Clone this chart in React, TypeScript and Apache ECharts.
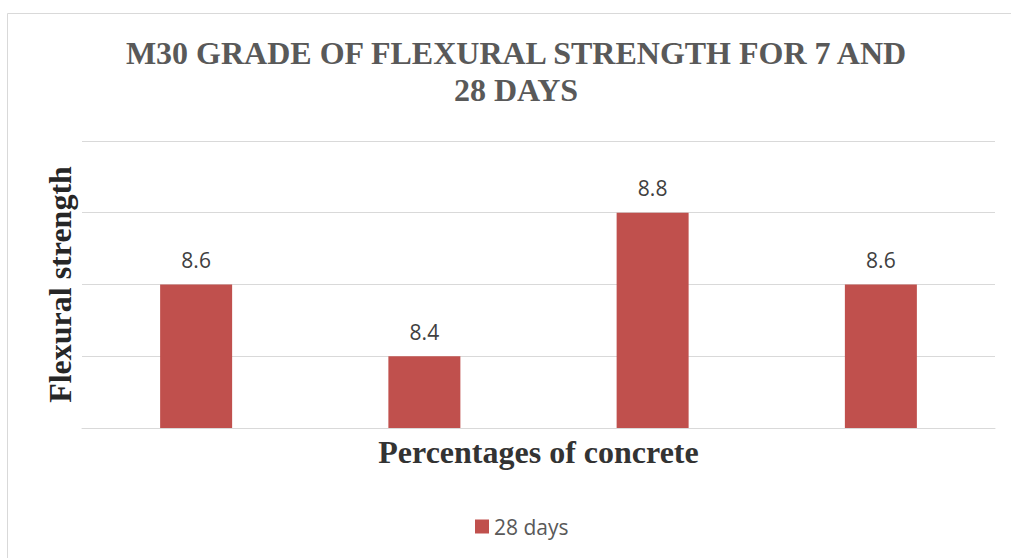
import React, { useEffect, useRef } from "react";
import * as echarts from "echarts";

const categories = ["Mix 1", "Mix 2", "Mix 3", "Mix 4"];
const days28 = [8.6, 8.4, 8.8, 8.6];
const seriesName = "28 days";
const titleText = "M30 GRADE OF FLEXURAL STRENGTH FOR 7 AND\n28 DAYS";
const xName = "Percentages of concrete";
const yName = "Flexural strength";

export default function App() {
  const ref = useRef<HTMLDivElement>(null);
  useEffect(() => {
    if (!ref.current) return;
    const chart = echarts.init(ref.current, null, { renderer: "svg" });
    chart.setOption({
      animation: false,
      backgroundColor: "#ffffff",
      title: {
        text: titleText,
        left: 516,
        top: 34,
        textAlign: "center",
        padding: 0,
        textStyle: {
          fontFamily: "Liberation Serif",
          fontWeight: "bold",
          fontSize: 32,
          lineHeight: 37,
          color: "#595959",
        },
      },
      graphic: [
        {
          type: "rect",
          shape: { x: 7.5, y: 13.5, width: 1100, height: 700 },
          style: { fill: "none", stroke: "#d9d9d9", lineWidth: 1 },
          silent: true,
        },
      ],
      legend: {
        data: [seriesName],
        left: 470,
        top: 511,
        itemWidth: 14,
        itemHeight: 14,
        itemGap: 10,
        icon: "rect",
        textStyle: { fontFamily: "Open Sans", fontSize: 21, color: "#595959" },
      },
      grid: { left: 82, right: 16, top: 141, bottom: 130 },
      xAxis: {
        type: "category",
        data: categories,
        name: xName,
        nameLocation: "middle",
        nameGap: 8,
        nameTextStyle: {
          fontFamily: "Liberation Serif",
          fontWeight: "bold",
          fontSize: 32,
          color: "#333333",
        },
        axisLine: { lineStyle: { color: "#d9d9d9", width: 1 } },
        axisTick: { show: false },
        axisLabel: { show: false },
      },
      yAxis: {
        type: "value",
        min: 8.2,
        max: 9.0,
        interval: 0.2,
        name: yName,
        nameLocation: "middle",
        nameGap: 6,
        nameTextStyle: {
          fontFamily: "Liberation Serif",
          fontWeight: "bold",
          fontSize: 32,
          color: "#262626",
        },
        axisLine: { show: false },
        axisTick: { show: false },
        axisLabel: { show: false },
        splitLine: { lineStyle: { color: "#d9d9d9", width: 1 } },
      },
      series: [
        {
          name: seriesName,
          type: "bar",
          data: days28,
          barWidth: 72,
          itemStyle: { color: "#c0504d" },
          label: {
            show: true,
            position: "top",
            distance: 14,
            fontFamily: "Open Sans",
            fontSize: 21,
            color: "#404040",
          },
        },
      ],
    });
    return () => chart.dispose();
  }, []);
  return (
    <div
      ref={ref}
      style={{ position: "absolute", left: 0, top: 0, width: 1011, height: 558 }}
    />
  );
}
